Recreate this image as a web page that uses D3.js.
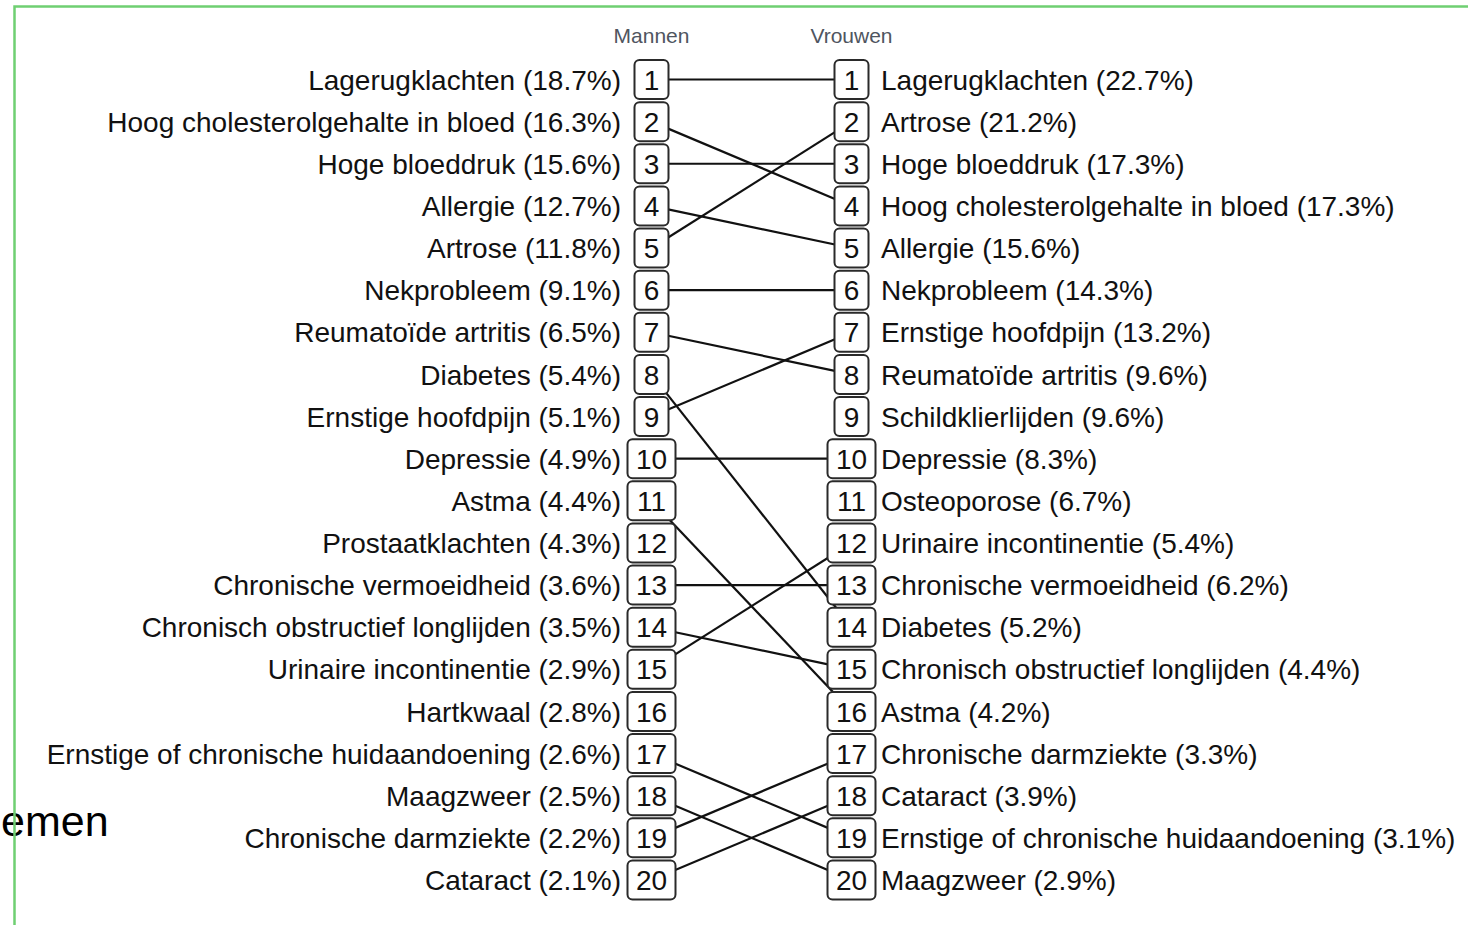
<!DOCTYPE html>
<html>
<head>
<meta charset="utf-8">
<script src="https://cdn.jsdelivr.net/npm/d3@7"></script>
<style>
  body { margin: 0; background: #fff; }
  text { font-family: "Liberation Sans", Arial, sans-serif; }
</style>
</head>
<body>
<svg id="chart" width="1468" height="925"></svg>
<script>
// ranked lists
var columns = ["Mannen", "Vrouwen"];

var mannenNames = ["Lagerugklachten", "Hoog cholesterolgehalte in bloed", "Hoge bloeddruk", "Allergie",
  "Artrose", "Nekprobleem", "Reumatoïde artritis", "Diabetes", "Ernstige hoofdpijn", "Depressie",
  "Astma", "Prostaatklachten", "Chronische vermoeidheid", "Chronisch obstructief longlijden",
  "Urinaire incontinentie", "Hartkwaal", "Ernstige of chronische huidaandoening", "Maagzweer",
  "Chronische darmziekte", "Cataract"];
var mannenPct = [18.7, 16.3, 15.6, 12.7, 11.8, 9.1, 6.5, 5.4, 5.1, 4.9,
  4.4, 4.3, 3.6, 3.5, 2.9, 2.8, 2.6, 2.5, 2.2, 2.1];

var vrouwenNames = ["Lagerugklachten", "Artrose", "Hoge bloeddruk", "Hoog cholesterolgehalte in bloed",
  "Allergie", "Nekprobleem", "Ernstige hoofdpijn", "Reumatoïde artritis", "Schildklierlijden",
  "Depressie", "Osteoporose", "Urinaire incontinentie", "Chronische vermoeidheid", "Diabetes",
  "Chronisch obstructief longlijden", "Astma", "Chronische darmziekte", "Cataract",
  "Ernstige of chronische huidaandoening", "Maagzweer"];
var vrouwenPct = [22.7, 21.2, 17.3, 17.3, 15.6, 14.3, 13.2, 9.6, 9.6, 8.3,
  6.7, 5.4, 6.2, 5.2, 4.4, 4.2, 3.3, 3.9, 3.1, 2.9];

var ranks = d3.range(1, 21);

var svg = d3.select("#chart");

var x = d3.scalePoint().domain(columns).range([651.5, 851.5]);
var y = d3.scalePoint().domain(ranks).range([79.5, 880]);

// fragment of a heading from the page behind
svg.append("text")
    .attr("x", 1)
    .attr("y", 836)
    .attr("font-size", 43)
    .attr("fill", "#000")
    .text("emen");

// column headers
svg.selectAll(".head")
  .data(columns)
  .enter().append("text")
    .attr("class", "head")
    .attr("x", function(d) { return x(d); })
    .attr("y", 43)
    .attr("text-anchor", "middle")
    .attr("font-size", 21)
    .attr("fill", "#4f5560")
    .text(function(d) { return d; });

// connecting lines, center to center (boxes drawn over them)
var links = mannenNames.map(function(n, i) {
  return {r1: i + 1, r2: vrouwenNames.indexOf(n) + 1};
}).filter(function(d) { return d.r2 > 0; });

svg.append("g")
  .selectAll("line")
  .data(links)
  .enter().append("line")
    .attr("x1", x("Mannen"))
    .attr("y1", function(d) { return y(d.r1); })
    .attr("x2", x("Vrouwen"))
    .attr("y2", function(d) { return y(d.r2); })
    .attr("stroke", "#111")
    .attr("stroke-width", 2.2);

function boxW(r) { return r < 10 ? 34 : 48; }
var boxH = 39;

columns.forEach(function(col) {
  var g = svg.append("g").attr("class", "col-" + col);
  var cells = g.selectAll("g")
    .data(ranks)
    .enter().append("g")
      .attr("transform", function(r) { return "translate(" + x(col) + "," + y(r) + ")"; });

  cells.append("rect")
      .attr("x", function(r) { return -boxW(r) / 2; })
      .attr("y", -boxH / 2)
      .attr("width", boxW)
      .attr("height", boxH)
      .attr("rx", 5)
      .attr("fill", "#fff")
      .attr("stroke", "#2a2a2a")
      .attr("stroke-width", 2);

  cells.append("text")
      .attr("text-anchor", "middle")
      .attr("dy", "0.36em")
      .attr("font-size", 28)
      .attr("fill", "#111")
      .text(function(r) { return r; });
});

// labels
svg.append("g")
  .selectAll("text")
  .data(mannenNames)
  .enter().append("text")
    .attr("x", 621)
    .attr("y", function(d, i) { return y(i + 1); })
    .attr("dy", "0.36em")
    .attr("text-anchor", "end")
    .attr("font-size", 28)
    .attr("fill", "#111")
    .text(function(d, i) { return d + " (" + mannenPct[i].toFixed(1) + "%)"; });

svg.append("g")
  .selectAll("text")
  .data(vrouwenNames)
  .enter().append("text")
    .attr("x", 881)
    .attr("y", function(d, i) { return y(i + 1); })
    .attr("dy", "0.36em")
    .attr("font-size", 28)
    .attr("fill", "#111")
    .text(function(d, i) { return d + " (" + vrouwenPct[i].toFixed(1) + "%)"; });

// green frame edge
svg.append("path")
    .attr("d", "M14.5,925 L14.5,6.5 L1468,6.5")
    .attr("fill", "none")
    .attr("stroke", "#6fcf72")
    .attr("stroke-width", 2.5);
</script>
</body>
</html>
